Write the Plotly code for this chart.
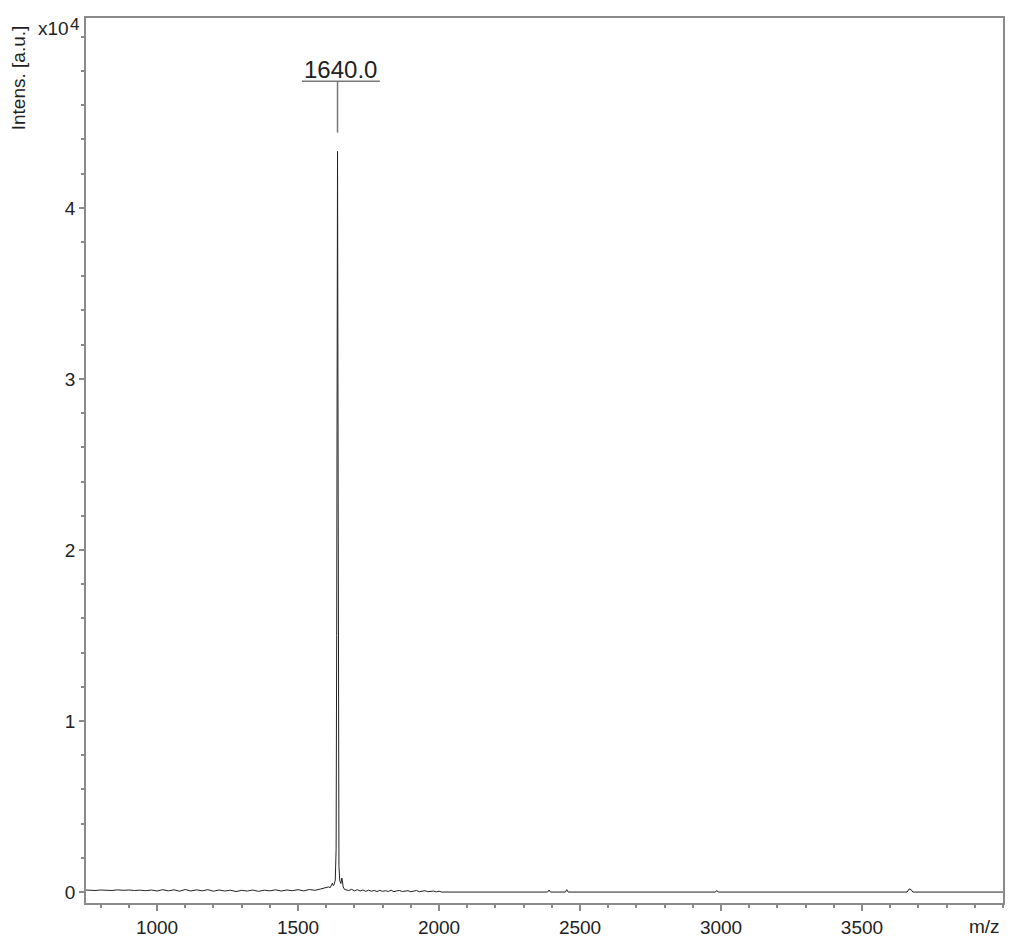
import plotly.graph_objects as go

# ---- Spectrum data (m/z, intensity in a.u.) ----
mz_low = [748, 760, 780, 800, 820, 840, 860, 880, 900, 920, 940, 960, 980,
          1000, 1020, 1040, 1060, 1080, 1100, 1120, 1140, 1160, 1180, 1200,
          1220, 1240, 1260, 1280, 1300, 1320, 1340, 1360, 1380, 1400, 1420,
          1440, 1460, 1480, 1500, 1520, 1540, 1560, 1580, 1600]
int_low = [120, 110, 90, 120, 100, 90, 130, 100, 120, 90, 110, 80, 120,
           60, 140, 70, 130, 50, 150, 60, 130, 70, 140, 50,
           120, 60, 110, 30, 100, 60, 120, 40, 110, 70, 130,
           60, 120, 80, 140, 70, 150, 100, 180, 250]

mz_peak = [1608, 1614, 1618, 1622, 1625, 1628, 1632, 1635, 1637, 1638.5,
           1640, 1641.5, 1643, 1645, 1648, 1652, 1655, 1657, 1660, 1665]
int_peak = [300, 260, 420, 520, 380, 450, 700, 2500, 15000, 36000,
            43300, 30000, 9000, 1500, 650, 500, 820, 700, 300, 150]

mz_tail = [1670, 1680, 1690, 1700, 1710, 1720, 1730, 1740, 1750, 1760,
           1770, 1780, 1790, 1800, 1810, 1820, 1830, 1840, 1850, 1860,
           1870, 1880, 1890, 1900, 1910, 1920, 1930, 1940, 1950, 1960,
           1970, 1980, 1990, 2000]
int_tail = [130, 90, 160, 70, 140, 60, 120, 40, 110, 50,
            90, 30, 100, 40, 80, 30, 110, 20, 70, 90,
            30, 60, 80, 20, 50, 90, 20, 60, 80, 20,
            40, 60, 10, 50]

mz_high = [2010, 2100, 2385, 2390, 2395, 2448, 2453, 2458, 2980, 2985,
           2990, 3660, 3667, 3674, 3680, 4000]
int_high = [0, 0, 0, 120, 0, 0, 140, 0, 0, 90,
            0, 0, 180, 150, 0, 0]

mz = mz_low + mz_peak + mz_tail + mz_high
intensity = int_low + int_peak + int_tail + int_high

peak_mz = 1640.0
peak_label = "1640.0"

major_x = [1000, 1500, 2000, 2500, 3000, 3500]
major_y = [0, 10000, 20000, 30000, 40000]
major_y_text = ["0", "1", "2", "3", "4"]

FONT = "Liberation Sans, Arial, sans-serif"
AXIS = "#8a8a8a"
TXT = "#222222"

fig = go.Figure()
fig.add_trace(go.Scatter(x=mz, y=intensity, mode="lines",
                         line=dict(color="#222222", width=1), hoverinfo="skip",
                         showlegend=False))

# peak label decoration
peak_int = max(intensity)
h_y = peak_int + 4100
fig.add_shape(type="line", xref="x", yref="y", x0=peak_mz - 126, x1=peak_mz + 150,
              y0=h_y, y1=h_y, line=dict(color="#777777", width=1.5))
fig.add_shape(type="line", xref="x", yref="y", x0=peak_mz, x1=peak_mz,
              y0=h_y, y1=peak_int + 1100, line=dict(color="#777777", width=1.5))
fig.add_annotation(x=peak_mz + 12, y=h_y, xref="x", yref="y", text=peak_label,
                   showarrow=False, yanchor="bottom", xanchor="center", yshift=-4,
                   font=dict(family=FONT, size=24, color=TXT))

# axis titles
fig.add_annotation(x=-0.0742, y=0.933, xref="paper", yref="paper",
                   text="Intens. [a.u.]", textangle=-90, showarrow=False,
                   xanchor="center", yanchor="middle",
                   font=dict(family=FONT, size=19, color=TXT))
fig.add_annotation(x=-0.0545, y=0.9876, xref="paper", yref="paper",
                   text="x10", showarrow=False,
                   xanchor="left", yanchor="middle",
                   font=dict(family=FONT, size=19, color=TXT))
fig.add_annotation(x=-0.0196, y=0.9932, xref="paper", yref="paper",
                   text="4", showarrow=False,
                   xanchor="left", yanchor="middle",
                   font=dict(family=FONT, size=17, color=TXT))
fig.add_annotation(x=0.980, y=-0.026, xref="paper", yref="paper",
                   text="m/z", showarrow=False, xanchor="center", yanchor="middle",
                   font=dict(family=FONT, size=19, color=TXT))

fig.update_layout(
    width=1013, height=938,
    margin=dict(l=86, r=10, t=18, b=35),
    paper_bgcolor="white", plot_bgcolor="white",
    font=dict(family=FONT, size=19, color=TXT),
    showlegend=False,
    xaxis=dict(range=[748, 4000], tickvals=major_x, ticktext=[str(v) for v in major_x],
               ticks="outside", ticklen=6, tickcolor=AXIS, tickwidth=1.5,
               minor=dict(dtick=100, tick0=0, ticks="outside", ticklen=3,
                          tickcolor=AXIS, tickwidth=1.5),
               showline=True, linecolor=AXIS, linewidth=1.5, mirror=True,
               showgrid=False, zeroline=False, automargin=False,
               tickfont=dict(family=FONT, size=19, color=TXT)),
    yaxis=dict(range=[-640, 51100], tickvals=major_y, ticktext=major_y_text,
               ticks="outside", ticklen=5, tickcolor=AXIS, tickwidth=1.5,
               minor=dict(dtick=2000, tick0=0, ticks="outside", ticklen=3,
                          tickcolor=AXIS, tickwidth=1.5),
               showline=True, linecolor=AXIS, linewidth=1.5, mirror=True,
               showgrid=False, zeroline=False, automargin=False,
               tickfont=dict(family=FONT, size=19, color=TXT)),
)

fig.write_html("out.html")
